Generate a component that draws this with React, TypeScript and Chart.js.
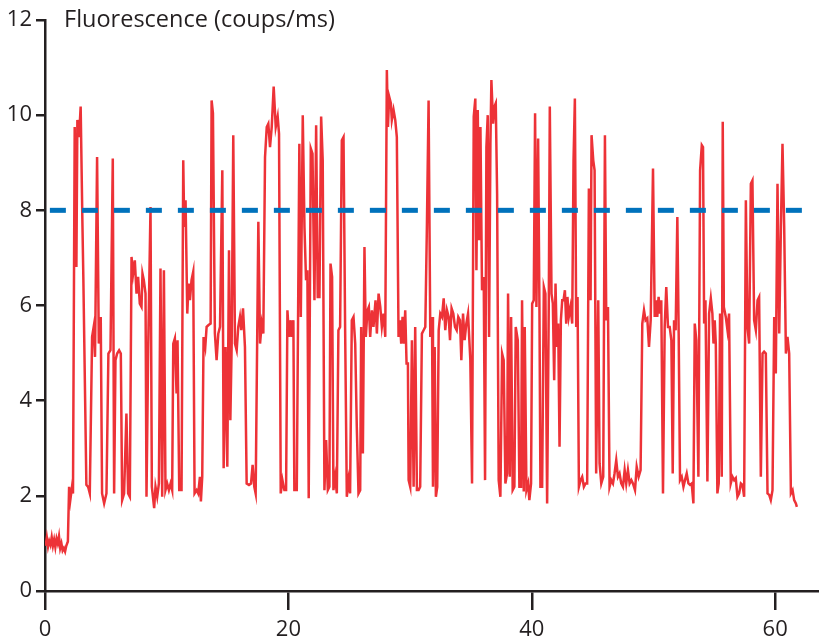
import React, { useEffect, useRef } from "react";
import { Chart, registerables } from "chart.js";

Chart.register(...registerables);

// Time (s) of each sample
const timeS = [
  0.05, 0.15, 0.25, 0.35, 0.45, 0.55, 0.65, 0.75, 0.85, 0.95, 1.05, 1.15, 1.25, 1.35, 1.45, 1.55, 1.65, 1.75, 1.88, 1.98,
  2.08, 2.22, 2.3, 2.44, 2.58, 2.66, 2.8, 2.93, 3.07, 3.15, 3.4, 3.54, 3.68, 3.87, 4.0, 4.11, 4.28, 4.42, 4.58, 4.69,
  4.86, 5.05, 5.21, 5.38, 5.57, 5.68, 5.79, 5.93, 6.09, 6.23, 6.34, 6.5, 6.69, 6.83, 6.97, 7.11, 7.24, 7.38, 7.52, 7.65,
  7.79, 7.93, 8.01, 8.12, 8.26, 8.34, 8.48, 8.67, 8.78, 8.97, 9.08, 9.22, 9.36, 9.49, 9.63, 9.77, 9.9, 10.04, 10.18, 10.32,
  10.45, 10.54, 10.67, 10.81, 10.89, 11.03, 11.22, 11.36, 11.44, 11.55, 11.69, 11.8, 11.91, 12.04, 12.18, 12.29, 12.46, 12.59, 12.73, 12.81,
  12.92, 13.03, 13.17, 13.28, 13.44, 13.61, 13.69, 13.8, 13.96, 14.1, 14.24, 14.38, 14.57, 14.68, 14.84, 14.98, 15.12, 15.23, 15.34, 15.47,
  15.61, 15.75, 15.88, 16.02, 16.13, 16.27, 16.43, 16.57, 16.76, 16.93, 17.06, 17.2, 17.31, 17.53, 17.67, 17.81, 17.94, 18.08, 18.22, 18.35,
  18.49, 18.63, 18.79, 18.96, 19.12, 19.23, 19.37, 19.51, 19.67, 19.81, 19.92, 20.05, 20.19, 20.27, 20.41, 20.49, 20.69, 20.9, 21.02, 21.18,
  21.32, 21.45, 21.56, 21.67, 21.84, 21.98, 22.14, 22.28, 22.41, 22.55, 22.69, 22.82, 22.96, 23.1, 23.24, 23.37, 23.46, 23.59, 23.7, 23.84,
  23.98, 24.11, 24.25, 24.39, 24.53, 24.66, 24.8, 24.94, 25.07, 25.21, 25.35, 25.49, 25.62, 25.76, 25.9, 25.98, 26.12, 26.25, 26.36, 26.5,
  26.61, 26.72, 26.86, 26.99, 27.16, 27.27, 27.41, 27.55, 27.68, 27.82, 27.96, 28.09, 28.18, 28.28, 28.42, 28.5, 28.64, 28.78, 28.91, 29.05,
  29.16, 29.27, 29.38, 29.49, 29.6, 29.71, 29.82, 29.88, 30.01, 30.15, 30.29, 30.42, 30.56, 30.7, 30.83, 30.97, 31.11, 31.25, 31.38, 31.52,
  31.66, 31.8, 31.88, 32.02, 32.12, 32.23, 32.35, 32.48, 32.62, 32.76, 32.89, 33.03, 33.17, 33.28, 33.41, 33.55, 33.69, 33.83, 33.96, 34.1,
  34.21, 34.35, 34.48, 34.62, 34.76, 34.95, 35.09, 35.23, 35.36, 35.45, 35.56, 35.67, 35.78, 35.91, 36.05, 36.16, 36.27, 36.38, 36.49, 36.6,
  36.68, 36.82, 36.93, 37.04, 37.15, 37.28, 37.42, 37.56, 37.69, 37.83, 37.97, 38.05, 38.19, 38.3, 38.43, 38.57, 38.68, 38.85, 38.98, 39.12,
  39.2, 39.34, 39.42, 39.56, 39.7, 39.8, 39.94, 40.03, 40.16, 40.27, 40.38, 40.52, 40.63, 40.71, 40.85, 40.99, 41.12, 41.26, 41.4, 41.48,
  41.62, 41.73, 41.84, 41.95, 42.06, 42.17, 42.28, 42.39, 42.5, 42.61, 42.72, 42.83, 42.93, 43.04, 43.18, 43.32, 43.43, 43.54, 43.65, 43.76,
  43.87, 44.01, 44.14, 44.28, 44.42, 44.55, 44.69, 44.83, 44.91, 45.05, 45.16, 45.29, 45.46, 45.57, 45.71, 45.87, 46.01, 46.12, 46.26, 46.39,
  46.53, 46.67, 46.8, 46.94, 47.08, 47.21, 47.35, 47.49, 47.63, 47.76, 47.9, 48.04, 48.18, 48.31, 48.48, 48.62, 48.78, 48.94, 49.08, 49.22,
  49.35, 49.49, 49.63, 49.77, 49.96, 50.1, 50.21, 50.31, 50.42, 50.53, 50.64, 50.78, 50.92, 51.05, 51.19, 51.33, 51.47, 51.58, 51.69, 51.82,
  51.96, 52.07, 52.18, 52.32, 52.46, 52.59, 52.73, 52.87, 53.0, 53.14, 53.28, 53.39, 53.52, 53.69, 53.83, 53.97, 54.07, 54.16, 54.27, 54.43,
  54.57, 54.71, 54.84, 54.93, 55.03, 55.12, 55.25, 55.36, 55.47, 55.61, 55.69, 55.78, 55.94, 56.08, 56.21, 56.35, 56.49, 56.63, 56.76, 56.9,
  57.04, 57.18, 57.31, 57.45, 57.59, 57.72, 57.86, 58.0, 58.13, 58.27, 58.41, 58.55, 58.68, 58.82, 58.96, 59.09, 59.23, 59.37, 59.51, 59.64,
  59.78, 59.92, 60.05, 60.19, 60.33, 60.47, 60.6, 60.74, 60.88, 61.01, 61.15, 61.29, 61.43, 61.56, 61.7, 61.78,
];

// Fluorescence (counts/ms) of each sample
const countsPerMs = [
  0.95, 1.12, 0.93, 1.05, 0.97, 1.13, 0.95, 1.08, 0.92, 1.1, 1.0, 1.15, 0.9, 1.0, 0.85, 0.9, 0.83, 0.95, 1.04, 2.19,
  1.91, 2.19, 2.05, 9.75, 6.81, 9.9, 9.54, 10.18, 7.8, 6.6, 2.23, 2.19, 2.05, 5.34, 5.55, 4.92, 9.12, 5.2, 5.76, 2.05,
  1.84, 2.05, 4.99, 5.06, 9.09, 2.05, 4.85, 4.99, 5.06, 4.99, 1.91, 2.05, 3.73, 2.05, 1.98, 7.02, 6.67, 6.95, 6.25, 6.6,
  6.04, 5.97, 6.67, 6.53, 6.25, 1.98, 5.13, 8.07, 2.19, 1.74, 2.19, 1.98, 2.26, 6.78, 1.98, 6.74, 2.12, 2.26, 2.12, 2.26,
  2.12, 5.2, 5.31, 4.15, 5.27, 2.12, 2.12, 9.05, 7.65, 8.21, 5.83, 6.46, 6.11, 6.53, 6.71, 2.05, 2.12, 2.05, 2.4, 1.88,
  2.4, 5.34, 5.13, 5.55, 5.59, 5.62, 10.31, 10.04, 5.41, 4.85, 5.41, 5.55, 8.84, 2.58, 5.13, 2.61, 7.16, 3.59, 5.2, 9.58,
  5.2, 5.06, 5.55, 5.76, 5.48, 5.94, 5.13, 2.26, 2.23, 2.26, 2.65, 2.19, 2.05, 7.76, 5.2, 5.62, 5.41, 9.12, 9.75, 9.82,
  9.33, 9.75, 10.6, 9.75, 9.97, 9.61, 2.05, 2.33, 2.12, 2.12, 5.9, 5.34, 5.69, 5.34, 5.69, 2.12, 2.12, 9.4, 5.76, 10.0,
  7.65, 6.53, 6.74, 1.95, 9.3, 9.19, 6.11, 9.79, 6.18, 6.18, 9.97, 9.05, 2.12, 3.17, 2.12, 2.19, 6.88, 6.6, 2.12, 2.4,
  2.05, 5.48, 5.55, 9.47, 9.54, 5.55, 1.98, 2.33, 2.05, 5.69, 5.76, 5.2, 3.45, 2.05, 2.12, 5.55, 2.89, 7.23, 5.34, 5.9,
  5.97, 5.34, 5.9, 5.55, 6.11, 5.41, 6.25, 5.97, 5.55, 5.83, 5.34, 10.95, 9.75, 10.39, 10.25, 9.9, 10.11, 9.9, 9.54, 5.34,
  5.69, 5.2, 5.76, 5.2, 5.9, 4.78, 4.78, 2.33, 2.19, 5.27, 2.19, 5.55, 2.12, 2.12, 2.19, 5.41, 5.48, 5.55, 7.65, 10.31,
  5.34, 5.76, 2.19, 5.13, 1.98, 2.19, 5.48, 5.83, 5.76, 6.15, 5.48, 5.9, 5.76, 5.27, 5.94, 5.83, 5.55, 5.48, 5.76, 5.69,
  4.85, 5.83, 5.27, 5.62, 5.83, 4.85, 2.26, 9.97, 10.35, 6.74, 10.11, 7.37, 9.75, 6.32, 6.6, 2.33, 9.33, 10.0, 5.34, 9.4,
  10.74, 9.82, 10.18, 10.25, 8.35, 2.33, 1.98, 4.99, 4.85, 2.26, 2.47, 6.25, 2.4, 5.76, 2.12, 2.19, 5.55, 5.27, 2.19, 2.19,
  6.11, 2.09, 5.55, 2.12, 2.26, 1.91, 2.26, 6.04, 6.11, 10.04, 5.97, 9.51, 5.9, 2.19, 2.19, 6.39, 6.25, 1.84, 6.18, 10.18,
  6.25, 6.04, 4.43, 6.46, 5.13, 5.62, 3.03, 5.69, 6.11, 6.11, 6.32, 5.62, 6.18, 5.76, 5.97, 5.62, 9.05, 10.35, 5.55, 6.18,
  2.19, 2.33, 2.4, 2.19, 2.26, 2.26, 8.46, 6.11, 9.58, 9.05, 8.84, 2.47, 6.11, 2.68, 2.26, 2.4, 9.58, 5.69, 5.97, 2.19,
  2.33, 2.26, 2.47, 2.75, 2.4, 2.47, 2.26, 2.19, 2.54, 2.26, 2.54, 2.26, 2.33, 2.26, 2.12, 2.61, 2.4, 2.54, 5.62, 5.9,
  5.69, 5.73, 5.13, 5.69, 8.88, 5.76, 6.11, 5.76, 6.18, 5.83, 6.11, 2.05, 5.55, 6.39, 5.55, 5.55, 5.27, 2.47, 5.69, 5.48,
  7.86, 5.41, 2.33, 2.4, 2.19, 2.33, 2.47, 2.26, 2.23, 2.26, 1.84, 5.62, 5.27, 2.4, 8.84, 9.37, 9.33, 5.62, 6.11, 2.3,
  5.83, 6.15, 5.83, 5.2, 5.69, 5.2, 2.05, 2.26, 5.83, 2.4, 9.86, 5.97, 5.76, 5.48, 5.83, 2.26, 2.4, 2.33, 2.37, 1.98,
  2.05, 2.26, 2.23, 1.98, 8.21, 5.55, 5.2, 8.56, 8.63, 5.69, 5.48, 6.11, 6.18, 2.4, 4.99, 5.03, 4.99, 2.05, 2.02, 1.91,
  2.12, 5.76, 4.57, 8.56, 5.41, 7.65, 9.4, 7.65, 4.99, 5.34, 4.99, 2.05, 2.12, 1.91, 1.84, 1.77,
];

// Dashed threshold level and its time span
const thresholdLevel = 8;
const thresholdSpan = [0.4, 62.3];

// Axis ticks and title
const xTickValues = [0, 20, 40, 60];
const yTickValues = [0, 2, 4, 6, 8, 10, 12];
const xRange = [0, 63.6];
const yRange = [0, 12];
const yAxisTitle = "Fluorescence (coups/ms)";

export default function App() {
  const canvasRef = useRef<HTMLCanvasElement | null>(null);

  useEffect(() => {
    const canvas = canvasRef.current;
    if (!canvas) return;
    const ink = "#231f20";
    const fontFamily = "'Open Sans', 'Noto Sans', sans-serif";

    const tracePoints = timeS.map((t, i) => ({ x: t, y: countsPerMs[i] }));
    const thresholdPoints = thresholdSpan.map((t) => ({ x: t, y: thresholdLevel }));

    const titlePlugin = {
      id: "topAxisTitle",
      afterDraw(chart: any) {
        const { ctx, chartArea } = chart;
        ctx.save();
        ctx.font = `23.5px ${fontFamily}`;
        ctx.fillStyle = ink;
        ctx.textBaseline = "middle";
        ctx.textAlign = "left";
        ctx.fillText(yAxisTitle, chartArea.left + 19, chartArea.top);
        ctx.restore();
      },
    };

    const chart = new Chart(canvas, {
      type: "line",
      data: {
        datasets: [
          {
            data: thresholdPoints,
            borderColor: "rgb(0,114,188)",
            borderWidth: 5,
            borderDash: [16, 16],
            pointRadius: 0,
            order: 0,
          },
          {
            data: tracePoints,
            borderColor: "rgb(237,50,55)",
            borderWidth: 2.5,
            pointRadius: 0,
            tension: 0,
            order: 1,
          },
        ],
      },
      options: {
        animation: false,
        responsive: false,
        maintainAspectRatio: false,
        layout: { padding: { top: 20, right: 0, left: 0, bottom: 0 } },
        plugins: {
          legend: { display: false },
          tooltip: { enabled: false },
        },
        scales: {
          x: {
            type: "linear",
            min: xRange[0],
            max: xRange[1],
            afterBuildTicks: (s: any) => {
              s.ticks = xTickValues.map((v) => ({ value: v }));
            },
            afterFit: (s: any) => {
              s.height = 50;
            },
            grid: {
              drawOnChartArea: false,
              drawTicks: true,
              tickLength: 19,
              color: ink,
              lineWidth: 2.5,
            },
            border: { display: true, color: ink, width: 2.5 },
            ticks: {
              color: ink,
              font: { family: fontFamily, size: 22 },
              padding: 7,
              maxRotation: 0,
              autoSkip: false,
            },
          },
          y: {
            type: "linear",
            min: yRange[0],
            max: yRange[1],
            afterBuildTicks: (s: any) => {
              s.ticks = yTickValues.map((v) => ({ value: v }));
            },
            afterFit: (s: any) => {
              s.width = 45;
            },
            grid: {
              drawOnChartArea: false,
              drawTicks: true,
              tickLength: 9,
              color: ink,
              lineWidth: 2.5,
            },
            border: { display: true, color: ink, width: 2.5 },
            ticks: {
              color: ink,
              font: { family: fontFamily, size: 22 },
              padding: 4,
              autoSkip: false,
            },
          },
        },
      },
      plugins: [titlePlugin],
    });

    return () => chart.destroy();
  }, []);

  return (
    <canvas
      ref={canvasRef}
      width={819}
      height={641}
      style={{ position: "absolute", left: 0, top: 0, display: "block" }}
    />
  );
}
